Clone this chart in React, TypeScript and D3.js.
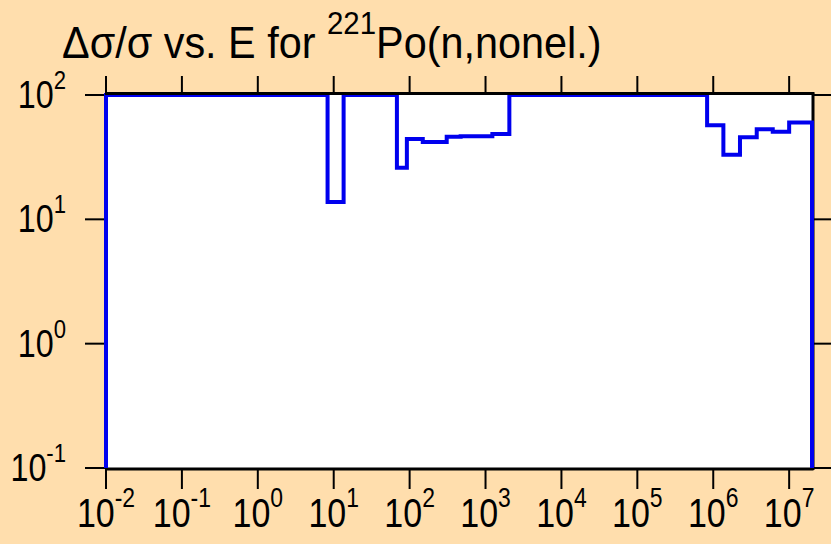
import React from "react";
import * as d3 from "d3";

const edges = [1e-2, 8.3, 13.5, 68, 92, 149, 308, 470, 1230, 2060, 8.3e5, 1.36e6, 2.25e6, 3.74e6, 6.08e6, 1.0e7, 2e7];
const values = [100, 13.8, 100, 26, 44.3, 41.9, 46.2, 46.5, 48.6, 100, 57, 33, 45.7, 53, 50.7, 60];
const xTickExps = [-2, -1, 0, 1, 2, 3, 4, 5, 6, 7];
const yTickExps = [-1, 0, 1, 2];

const W = 831, H = 544;
const L = 106, R = 812, T = 95, B = 468;
const BG = "#FFDEAD";
const SX = 0.85;

export default function App() {
  const x = d3.scaleLog().domain([1e-2, 2e7]).range([L, R]);
  const y = d3.scaleLog().domain([0.1, 100]).range([B, T]);
  const pts: [number, number][] = [[edges[0], 0.1]];
  values.forEach((v, i) => {
    pts.push([edges[i], v]);
    pts.push([edges[i + 1], v]);
  });
  pts.push([edges[edges.length - 1], 0.1]);
  const line = d3.line<[number, number]>().x(d => x(d[0])).y(d => y(d[1]));
  const font = "Liberation Sans, Arial, Helvetica, sans-serif";
  const expLabel = (e: number) => (e < 0 ? "-" + Math.abs(e) : String(e));
  return (
    <svg width={W} height={H} style={{ position: "absolute", left: 0, top: 0 }} fontFamily={font}>
      <rect x={0} y={0} width={W} height={H} fill={BG} />
      <rect x={L} y={T} width={R - L} height={B - T} fill="white" />
      {/* title */}
      <g transform={`translate(62,58) scale(0.92,1)`}>
        <text x={0} y={0} fontSize={45} fill="black">
          {"\u0394\u03c3/\u03c3 vs. E for "}
          <tspan fontSize={32} dy={-24}>221</tspan>
          <tspan dy={24}>Po(n,nonel.)</tspan>
        </text>
      </g>
      {/* x ticks */}
      {xTickExps.map(e => {
        const px = x(Math.pow(10, e));
        return (
          <g key={"x" + e}>
            <line x1={px} x2={px} y1={T} y2={T - 19} stroke="black" strokeWidth={2} />
            <line x1={px} x2={px} y1={B} y2={B + 21} stroke="black" strokeWidth={2} />
            <g transform={`translate(${px},527) scale(${SX},1)`}>
              <text x={0} y={0} fontSize={40} textAnchor="middle" fill="black">
                10<tspan fontSize={27} dy={-20}>{expLabel(e)}</tspan>
              </text>
            </g>
          </g>
        );
      })}
      {/* y ticks */}
      {yTickExps.map(e => {
        const py = y(Math.pow(10, e));
        return (
          <g key={"y" + e}>
            <line x1={L} x2={L - 21} y1={py} y2={py} stroke="black" strokeWidth={2} />
            <line x1={R} x2={W} y1={py} y2={py} stroke="black" strokeWidth={2} />
            <g transform={`translate(66,${py + 13}) scale(${SX},1)`}>
              <text x={0} y={0} fontSize={38} textAnchor="end" fill="black">
                10<tspan fontSize={26} dy={-19}>{expLabel(e)}</tspan>
              </text>
            </g>
          </g>
        );
      })}
      {/* frame */}
      <line x1={L} x2={R + 1.5} y1={B + 1} y2={B + 1} stroke="black" strokeWidth={3} />
      <line x1={R + 1} x2={R + 1} y1={T - 1.5} y2={B + 2} stroke="black" strokeWidth={3} />
      <path d={line(pts) || ""} fill="none" stroke="#0000EE" strokeWidth={4} strokeLinejoin="miter" />
      <line x1={L - 1} x2={R + 2.5} y1={T - 1.5} y2={T - 1.5} stroke="black" strokeWidth={3} />
    </svg>
  );
}
